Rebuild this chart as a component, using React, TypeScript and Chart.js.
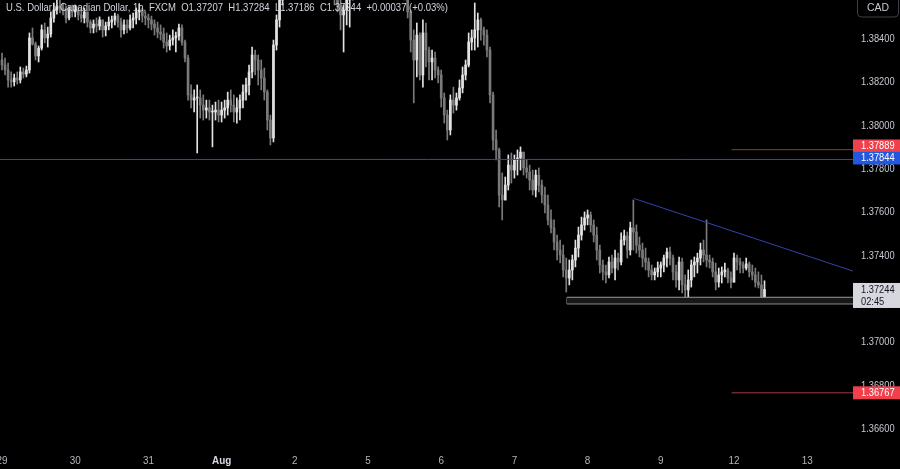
import React, { useEffect, useRef } from "react";
import { Chart, registerables } from "chart.js";

Chart.register(...registerables);

// ---------- data (USD/CAD, 1h, FXCM) ----------
const dayLabels = ["29", "30", "31", "Aug", "2", "5", "6", "7", "8", "9", "12", "13"];
const hoursPerDay = 24;

const firstOpen = 1.38303;

const closes = [
  1.38280, 1.38257, 1.38211, 1.38202, 1.38220, 1.38211, 1.38248, 1.38238, 1.38257, 1.38405, 1.38377, 1.38322, 1.38358, 1.38442, 1.38405, 1.38423, 1.38497, 1.38534, 1.38552, 1.38543, 1.38534, 1.38497, 1.38534, 1.38525,
  1.38534, 1.38511, 1.38497, 1.38525, 1.38478, 1.38451, 1.38469, 1.38460, 1.38488, 1.38442, 1.38460, 1.38478, 1.38488, 1.38506, 1.38478, 1.38442, 1.38465, 1.38451, 1.38488, 1.38497, 1.38525, 1.38534, 1.38506, 1.38497,
  1.38488, 1.38469, 1.38451, 1.38432, 1.38423, 1.38386, 1.38368, 1.38395, 1.38405, 1.38414, 1.38451, 1.38386, 1.38312, 1.38142, 1.38118, 1.38128, 1.38128, 1.38095, 1.38072, 1.38082, 1.38063, 1.38063, 1.38072, 1.38049,
  1.38072, 1.38082, 1.38118, 1.38095, 1.38063, 1.38082, 1.38118, 1.38155, 1.38188, 1.38248, 1.38326, 1.38303, 1.38257, 1.38220, 1.38155, 1.38026, 1.37943, 1.38372, 1.38488, 1.38580, 1.38626, 1.38663, 1.38695, 1.38682,
  1.38672, 1.38709, 1.38718, 1.38700, 1.38728, 1.38742, 1.38718, 1.38765, 1.38788, 1.38755, 1.38718, 1.38672, 1.38635, 1.38603, 1.38557, 1.38511, 1.38534, 1.38580, 1.38603, 1.38672, 1.38718, 1.38742, 1.38755, 1.38765,
  1.38811, 1.38903, 1.38995, 1.38949, 1.38903, 1.38857, 1.38834, 1.38811, 1.38788, 1.38765, 1.38718, 1.38672, 1.38626, 1.38525, 1.38395, 1.38303, 1.38418, 1.38234, 1.38428, 1.38349, 1.38294, 1.38312, 1.38257, 1.38234,
  1.38128, 1.38049, 1.37980, 1.38118, 1.38095, 1.38128, 1.38174, 1.38234, 1.38280, 1.38386, 1.38405, 1.38442, 1.38488, 1.38442, 1.38418, 1.38349, 1.38142, 1.37934, 1.37888, 1.37680, 1.37657, 1.37726, 1.37818, 1.37795,
  1.37842, 1.37851, 1.37878, 1.37805, 1.37786, 1.37749, 1.37703, 1.37772, 1.37726, 1.37680, 1.37634, 1.37565, 1.37528, 1.37463, 1.37426, 1.37403, 1.37334, 1.37297, 1.37334, 1.37380, 1.37435, 1.37495, 1.37542, 1.37574,
  1.37588, 1.37542, 1.37495, 1.37426, 1.37357, 1.37325, 1.37311, 1.37371, 1.37343, 1.37389, 1.37371, 1.37472, 1.37491, 1.37426, 1.37528, 1.37509, 1.37449, 1.37426, 1.37389, 1.37371, 1.37334, 1.37311, 1.37325, 1.37343,
  1.37357, 1.37389, 1.37417, 1.37389, 1.37325, 1.37288, 1.37371, 1.37265, 1.37242, 1.37288, 1.37357, 1.37371, 1.37389, 1.37426, 1.37403, 1.37380, 1.37371, 1.37325, 1.37278, 1.37311, 1.37325, 1.37334, 1.37297, 1.37278,
  1.37389, 1.37371, 1.37357, 1.37343, 1.37362, 1.37325, 1.37311, 1.37278, 1.37265, 1.37207, 1.37244,
];

const highs = [
  1.38335, 1.38312, 1.38289, 1.38248, 1.38238, 1.38248, 1.38271, 1.38266, 1.38275, 1.38428, 1.38451, 1.38386, 1.38368, 1.38465, 1.38474, 1.38455, 1.38525, 1.38566, 1.38580, 1.38594, 1.38566, 1.38552, 1.38548, 1.38557,
  1.38557, 1.38548, 1.38543, 1.38543, 1.38520, 1.38488, 1.38488, 1.38497, 1.38502, 1.38488, 1.38478, 1.38502, 1.38506, 1.38520, 1.38515, 1.38497, 1.38488, 1.38488, 1.38511, 1.38520, 1.38543, 1.38562, 1.38543, 1.38525,
  1.38515, 1.38506, 1.38488, 1.38478, 1.38465, 1.38451, 1.38428, 1.38418, 1.38442, 1.38432, 1.38469, 1.38465, 1.38395, 1.38326, 1.38188, 1.38165, 1.38188, 1.38165, 1.38142, 1.38118, 1.38118, 1.38095, 1.38109, 1.38118,
  1.38109, 1.38118, 1.38155, 1.38165, 1.38142, 1.38128, 1.38142, 1.38188, 1.38220, 1.38280, 1.38363, 1.38349, 1.38326, 1.38303, 1.38266, 1.38165, 1.38049, 1.38395, 1.38511, 1.38603, 1.38672, 1.38709, 1.38742, 1.38728,
  1.38718, 1.38755, 1.38765, 1.38746, 1.38774, 1.38788, 1.38765, 1.38811, 1.38834, 1.38802, 1.38765, 1.38718, 1.38682, 1.38649, 1.38649, 1.38580, 1.38557, 1.38603, 1.38626, 1.38695, 1.38765, 1.38788, 1.38802, 1.38811,
  1.38857, 1.38949, 1.39042, 1.38995, 1.38949, 1.38903, 1.38880, 1.38857, 1.38834, 1.38811, 1.38765, 1.38718, 1.38672, 1.38617, 1.38534, 1.38442, 1.38474, 1.38428, 1.38488, 1.38474, 1.38363, 1.38349, 1.38340, 1.38271,
  1.38257, 1.38151, 1.38072, 1.38142, 1.38178, 1.38151, 1.38211, 1.38271, 1.38303, 1.38428, 1.38442, 1.38566, 1.38520, 1.38497, 1.38455, 1.38442, 1.38363, 1.38155, 1.37980, 1.37897, 1.37782, 1.37763, 1.37865, 1.37874,
  1.37865, 1.37888, 1.37902, 1.37878, 1.37842, 1.37818, 1.37795, 1.37795, 1.37805, 1.37749, 1.37717, 1.37680, 1.37611, 1.37565, 1.37495, 1.37472, 1.37449, 1.37389, 1.37380, 1.37403, 1.37472, 1.37532, 1.37578, 1.37602,
  1.37611, 1.37602, 1.37565, 1.37532, 1.37449, 1.37380, 1.37357, 1.37394, 1.37403, 1.37426, 1.37412, 1.37505, 1.37518, 1.37509, 1.37555, 1.37657, 1.37542, 1.37486, 1.37458, 1.37435, 1.37389, 1.37357, 1.37343, 1.37371,
  1.37371, 1.37403, 1.37435, 1.37440, 1.37403, 1.37357, 1.37394, 1.37389, 1.37311, 1.37334, 1.37380, 1.37394, 1.37412, 1.37458, 1.37472, 1.37565, 1.37403, 1.37389, 1.37366, 1.37343, 1.37348, 1.37366, 1.37343, 1.37325,
  1.37412, 1.37403, 1.37389, 1.37371, 1.37389, 1.37371, 1.37357, 1.37343, 1.37325, 1.37311, 1.37284,
];

const lows = [
  1.38257, 1.38234, 1.38178, 1.38178, 1.38183, 1.38192, 1.38197, 1.38220, 1.38225, 1.38243, 1.38372, 1.38303, 1.38294, 1.38349, 1.38382, 1.38363, 1.38409, 1.38478, 1.38515, 1.38520, 1.38511, 1.38474, 1.38488, 1.38502,
  1.38502, 1.38488, 1.38478, 1.38474, 1.38455, 1.38428, 1.38428, 1.38432, 1.38442, 1.38409, 1.38414, 1.38442, 1.38451, 1.38465, 1.38455, 1.38409, 1.38423, 1.38428, 1.38442, 1.38451, 1.38469, 1.38488, 1.38478, 1.38465,
  1.38451, 1.38442, 1.38418, 1.38405, 1.38395, 1.38358, 1.38340, 1.38349, 1.38372, 1.38340, 1.38395, 1.38372, 1.38294, 1.38118, 1.38082, 1.38063, 1.37874, 1.38035, 1.38026, 1.38035, 1.38026, 1.37902, 1.38026, 1.38017,
  1.38017, 1.38035, 1.38049, 1.38063, 1.38017, 1.38012, 1.38026, 1.38082, 1.38118, 1.38142, 1.38220, 1.38234, 1.38188, 1.38165, 1.38118, 1.37980, 1.37911, 1.37925, 1.38349, 1.38455, 1.38557, 1.38603, 1.38649, 1.38635,
  1.38626, 1.38663, 1.38672, 1.38654, 1.38682, 1.38695, 1.38672, 1.38718, 1.38742, 1.38709, 1.38672, 1.38626, 1.38589, 1.38557, 1.38525, 1.38442, 1.38340, 1.38465, 1.38455, 1.38580, 1.38649, 1.38695, 1.38709, 1.38718,
  1.38765, 1.38811, 1.38903, 1.38903, 1.38857, 1.38811, 1.38788, 1.38765, 1.38742, 1.38718, 1.38672, 1.38626, 1.38580, 1.38497, 1.38340, 1.38105, 1.38225, 1.38211, 1.38178, 1.38271, 1.38211, 1.38211, 1.38220, 1.38197,
  1.38086, 1.38012, 1.37934, 1.37957, 1.38058, 1.38072, 1.38118, 1.38151, 1.38211, 1.38271, 1.38349, 1.38349, 1.38363, 1.38395, 1.38372, 1.38317, 1.38105, 1.37888, 1.37842, 1.37625, 1.37565, 1.37657, 1.37703, 1.37735,
  1.37758, 1.37772, 1.37795, 1.37772, 1.37758, 1.37703, 1.37680, 1.37671, 1.37694, 1.37643, 1.37597, 1.37542, 1.37505, 1.37426, 1.37380, 1.37366, 1.37302, 1.37232, 1.37265, 1.37288, 1.37348, 1.37394, 1.37472, 1.37518,
  1.37542, 1.37509, 1.37463, 1.37380, 1.37320, 1.37288, 1.37274, 1.37297, 1.37320, 1.37288, 1.37334, 1.37357, 1.37449, 1.37389, 1.37403, 1.37426, 1.37412, 1.37394, 1.37348, 1.37334, 1.37302, 1.37288, 1.37288, 1.37302,
  1.37302, 1.37325, 1.37348, 1.37357, 1.37288, 1.37255, 1.37242, 1.37228, 1.37195, 1.37195, 1.37255, 1.37302, 1.37320, 1.37357, 1.37371, 1.37348, 1.37343, 1.37302, 1.37242, 1.37255, 1.37274, 1.37302, 1.37274, 1.37251,
  1.37311, 1.37334, 1.37320, 1.37320, 1.37334, 1.37302, 1.37288, 1.37255, 1.37251, 1.37200, 1.37186,
];

const priceTicks = [1.384, 1.382, 1.38, 1.378, 1.376, 1.374, 1.372, 1.37, 1.368, 1.366];

// drawings
const blueLevel = 1.37844;
const redUpperLevel = 1.37889;
const redLowerLevel = 1.36767;
const redLinesFromIndex = 239.2;
const trendFrom = { x: 207.2, y: 1.37664 };
const trendTo = { x: 279.0, y: 1.37329 };
const zoneFromIndex = 185.25;
const zoneTop = 1.37208;
const zoneBottom = 1.37177;
const countdown = "02:45";

const symbolTitle = "U.S. Dollar / Canadian Dollar, 1h, FXCM";

// ---------- view ----------
const X_MIN = -0.656;
const X_MAX = 279.67;
const Y_MIN = 1.365031;
const Y_MAX = 1.3858;

const BG = "#000000";
const UP = "#e2e2e2";
const DOWN = "#7a7a7a";
const FONT = '11px "Liberation Sans", Arial, sans-serif';

function drawText(
  ctx: CanvasRenderingContext2D,
  s: string,
  x: number,
  y: number,
  color: string,
  align: "left" | "center" | "right",
  sx: number,
  font: string = FONT
) {
  ctx.save();
  ctx.font = font;
  ctx.fillStyle = color;
  ctx.textBaseline = "middle";
  ctx.textAlign = "left";
  const w = ctx.measureText(s).width * sx;
  const x0 = align === "left" ? x : align === "center" ? x - w / 2 : x - w;
  ctx.translate(x0, y);
  ctx.scale(sx, 1);
  ctx.fillText(s, 0, 0);
  ctx.restore();
}

const overlayPlugin = {
  id: "overlay",
  beforeDraw(chart: any) {
    const { ctx, width, height } = chart;
    ctx.save();
    ctx.fillStyle = BG;
    ctx.fillRect(0, 0, width, height);
    ctx.restore();
  },
  afterDraw(chart: any) {
    const ctx: CanvasRenderingContext2D = chart.ctx;
    const xs = chart.scales.x;
    const ys = chart.scales.y;
    const axisLeft = chart.chartArea.right;
    const W = chart.width;

    ctx.save();
    ctx.font = FONT;
    const sxAxis = 33.6 / ctx.measureText("1.38400").width;
    ctx.restore();

    // price axis labels
    priceTicks.forEach((v) => {
      drawText(ctx, v.toFixed(5), axisLeft + 6, ys.getPixelForValue(v), "#c5c8d0", "left", sxAxis);
    });

    // time axis labels
    dayLabels.forEach((lab, k) => {
      const px = xs.getPixelForValue(k * hoursPerDay);
      drawText(ctx, lab, px, 461, lab === "Aug" ? "#d6d9e0" : "#b2b5be", "center", 0.9,
        lab === "Aug" ? 'bold 11px "Liberation Sans", Arial, sans-serif' : FONT);
    });

    const box = (top: number, h: number, bg: string, fg: string, lines: string[]) => {
      ctx.save();
      ctx.fillStyle = bg;
      ctx.fillRect(axisLeft - 2, top, W - axisLeft + 2, h);
      ctx.restore();
      lines.forEach((t, k) => {
        drawText(ctx, t, axisLeft + 6, top + 6.5 + k * 12.5, fg, "left", sxAxis);
      });
    };

    // blue + red upper labels
    const pb = ys.getPixelForValue(blueLevel);
    const blueTop = pb - 7.5;
    box(blueTop - 12.5, 12.5, "#f0404c", "#ffffff", [redUpperLevel.toFixed(5)]);
    box(blueTop, 12.5, "#2457e0", "#ffffff", [blueLevel.toFixed(5)]);
    // lower red label
    const pr = ys.getPixelForValue(redLowerLevel);
    box(pr - 6.5, 13, "#f0404c", "#ffffff", [redLowerLevel.toFixed(5)]);
    // current price label
    const last = closes[closes.length - 1];
    const pl = ys.getPixelForValue(last);
    box(pl - 6.5, 25, "#d6d8de", "#131722", [last.toFixed(5), countdown]);

    // CAD button
    ctx.save();
    ctx.strokeStyle = "#3d404a";
    ctx.lineWidth = 1;
    ctx.beginPath();
    (ctx as any).roundRect(857.5, -4.5, 41, 21.5, 4);
    ctx.stroke();
    ctx.restore();
    drawText(ctx, "CAD", 878, 7.5, "#c5c8d0", "center", 0.95);

    // legend / title
    const n = closes.length;
    const o = closes[n - 2];
    const c = closes[n - 1];
    const ch = c - o;
    const pct = (ch / o) * 100;
    const title =
      symbolTitle +
      "  O" + o.toFixed(5) +
      "  H" + highs[n - 1].toFixed(5) +
      "  L" + lows[n - 1].toFixed(5) +
      "  C" + c.toFixed(5) +
      "  " + (ch >= 0 ? "+" : "") + ch.toFixed(5) +
      " (" + (pct >= 0 ? "+" : "") + pct.toFixed(2) + "%)";
    ctx.save();
    ctx.font = FONT;
    const tw = ctx.measureText(title).width;
    ctx.restore();
    drawText(ctx, title, 6, 7.5, "#d1d4dc", "left", 442 / tw);
  },
};

export default function App() {
  const ref = useRef<HTMLCanvasElement>(null);

  useEffect(() => {
    document.body.style.margin = "0";
    const canvas = ref.current;
    if (!canvas) return;

    const opens = closes.map((c, i) => (i === 0 ? firstOpen : closes[i - 1]));
    const colors = closes.map((c, i) => (c >= opens[i] ? UP : DOWN));
    const wickData = closes.map((c, i) => ({
      x: i,
      y: [Math.min(lows[i], opens[i], c), Math.max(highs[i], opens[i], c)],
    }));
    const bodyData = closes.map((c, i) => ({
      x: i,
      y: [Math.min(opens[i], c), Math.max(opens[i], c)],
    }));

    const lineDs = (data: any[], color: string, extra: any = {}) => ({
      type: "line",
      data,
      borderColor: color,
      borderWidth: 1,
      pointRadius: 0,
      tension: 0,
      fill: false,
      order: 1,
      ...extra,
    });

    const chart = new Chart(canvas, {
      type: "bar",
      data: {
        datasets: [
          {
            type: "bar",
            data: wickData as any,
            backgroundColor: colors,
            barThickness: 1,
            grouped: false,
            order: 3,
          },
          {
            type: "bar",
            data: bodyData as any,
            backgroundColor: colors,
            barThickness: 2,
            minBarLength: 1,
            grouped: false,
            order: 2,
          },
          lineDs([{ x: X_MIN, y: blueLevel }, { x: X_MAX, y: blueLevel }], "#3546b8"),
          lineDs([{ x: redLinesFromIndex, y: redUpperLevel }, { x: X_MAX, y: redUpperLevel }], "#8e3a2f"),
          lineDs([{ x: redLinesFromIndex, y: redLowerLevel }, { x: X_MAX, y: redLowerLevel }], "#a43a3a"),
          lineDs([trendFrom, trendTo], "#3243aa"),
          lineDs([{ x: zoneFromIndex, y: zoneTop }, { x: X_MAX, y: zoneTop }], "#9a9a9a"),
          lineDs([{ x: zoneFromIndex, y: zoneBottom }, { x: X_MAX, y: zoneBottom }], "#8a8a8a", {
            fill: "-1",
            backgroundColor: "#181818",
          }),
          lineDs([{ x: zoneFromIndex, y: zoneBottom }, { x: zoneFromIndex, y: zoneTop }], "#9a9a9a"),
        ] as any,
      },
      options: {
        animation: false,
        responsive: true,
        maintainAspectRatio: false,
        layout: { padding: { left: 0, right: 45, top: 0, bottom: 19 } },
        plugins: { legend: { display: false }, tooltip: { enabled: false } },
        scales: {
          x: { type: "linear", min: X_MIN, max: X_MAX, display: false, offset: false },
          y: { type: "linear", min: Y_MIN, max: Y_MAX, display: false },
        },
      } as any,
      plugins: [overlayPlugin],
    });

    return () => chart.destroy();
  }, []);

  return (
    <div style={{ position: "fixed", left: 0, top: 0, width: 900, height: 469, background: BG }}>
      <canvas ref={ref} />
    </div>
  );
}
